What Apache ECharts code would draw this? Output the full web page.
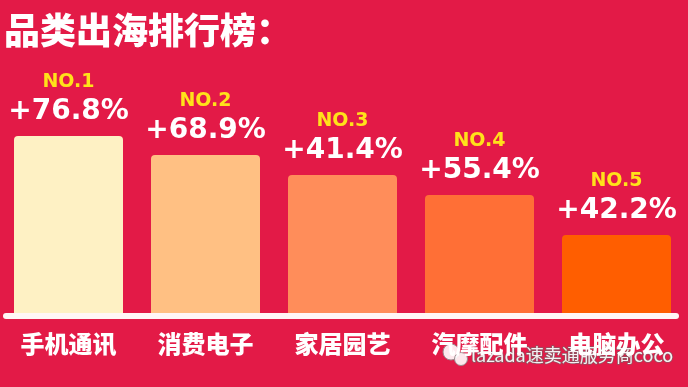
<!DOCTYPE html>
<html>
<head>
<meta charset="utf-8">
<script src="https://cdn.jsdelivr.net/npm/echarts@6/dist/echarts.min.js"></script>
<style>
html,body{margin:0;padding:0;background:#E31A47;}
#chart{width:688px;height:387px;}
</style>
</head>
<body>
<div id="chart"></div>
<script>
// Categories (export categories), ranks, growth labels and drawn bar heights (relative units)
var categories = ['手机通讯', '消费电子', '家居园艺', '汽摩配件', '电脑办公'];
var ranks = ['NO.1', 'NO.2', 'NO.3', 'NO.4', 'NO.5'];
var growthLabels = ['+76.8%', '+68.9%', '+41.4%', '+55.4%', '+42.2%'];
var barHeights = [177, 158, 138, 118, 78];
var barColors = ['#FEF1C4', '#FFC083', '#FF8D5A', '#FF6F36', '#FF5E00'];
var titleText = '品类出海排行榜：';
var watermarkText = 'lazada速卖通服务商coco';

var chart = echarts.init(document.getElementById('chart'));
var data = barHeights.map(function (v, i) {
  return { value: v, itemStyle: { color: barColors[i] } };
});

chart.setOption({
  backgroundColor: '#E31A47',
  animation: false,
  title: {
    text: titleText,
    left: -1,
    top: 7,
    textStyle: {
      color: '#FFFFFF',
      fontSize: 36,
      fontWeight: 900,
      fontFamily: 'Noto Sans CJK SC'
    }
  },
  grid: { left: -4, right: 3, top: 113, bottom: 74 },
  xAxis: {
    type: 'category',
    data: categories,
    axisLine: { show: false },
    axisTick: { show: false },
    axisLabel: {
      color: '#FFFFFF',
      fontSize: 24,
      fontWeight: 900,
      fontFamily: 'Noto Sans CJK SC',
      lineHeight: 24,
      margin: 19
    }
  },
  yAxis: {
    type: 'value',
    min: 0,
    max: 200,
    show: false,
    splitLine: { show: false }
  },
  series: [{
    type: 'bar',
    data: data,
    barWidth: 109,
    itemStyle: { borderRadius: [4, 4, 0, 0] },
    label: {
      show: true,
      position: 'top',
      distance: 9,
      formatter: function (p) {
        return '{a|' + ranks[p.dataIndex] + '}\n{b|' + growthLabels[p.dataIndex] + '}';
      },
      rich: {
        a: {
          color: '#FFE21A',
          fontSize: 19,
          fontWeight: 'bold',
          fontFamily: 'DejaVu Sans',
          lineHeight: 30,
          align: 'center'
        },
        b: {
          color: '#FFFFFF',
          fontSize: 28,
          fontWeight: 'bold',
          fontFamily: 'DejaVu Sans',
          lineHeight: 30,
          align: 'center'
        }
      }
    }
  }],
  graphic: [
    {
      type: 'rect',
      shape: { x: 3, y: 313, width: 676, height: 6, r: 3 },
      style: { fill: '#FFF6F6' },
      z: 10
    },
    {
      type: 'group',
      z: 20,
      children: [
        { type: 'circle', shape: { cx: 451, cy: 352, r: 8 }, style: { fill: 'rgba(255,255,255,0.9)', stroke: '#9a8a8e', lineWidth: 1 } },
        { type: 'circle', shape: { cx: 461, cy: 359, r: 6.5 }, style: { fill: 'rgba(255,255,255,0.9)', stroke: '#9a8a8e', lineWidth: 1 } },
        {
          type: 'text',
          x: 471,
          y: 355,
          style: {
            text: watermarkText,
            fill: 'rgba(255,255,255,0.92)',
            stroke: 'rgba(120,100,105,0.8)',
            lineWidth: 1.5,
            font: '18px "Noto Sans CJK SC"',
            verticalAlign: 'middle'
          }
        }
      ]
    }
  ]
});
</script>
</body>
</html>
